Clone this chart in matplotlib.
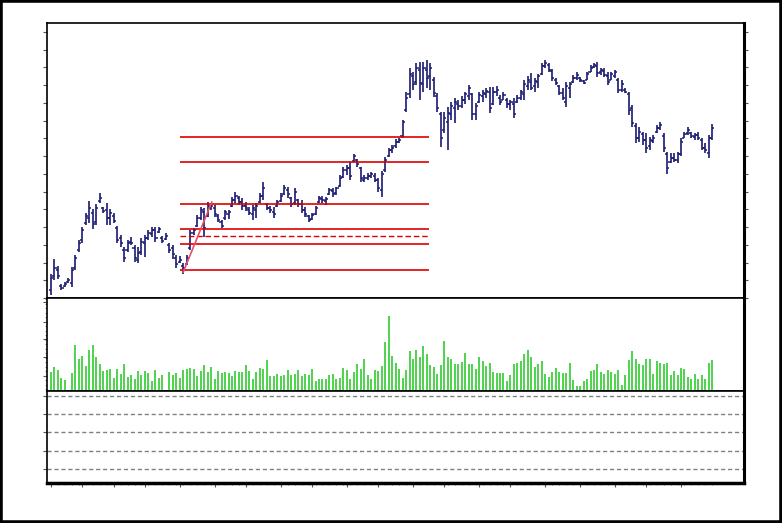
import numpy as np
import matplotlib
matplotlib.use("Agg")
import matplotlib.pyplot as plt
import matplotlib.patches as patches

# daily bars, price in arbitrary units (no labels on the original)
high = [24, 39, 32, 14, 16, 20, 31, 43, 58, 71,
        85, 97, 89, 94, 105, 91, 95, 89, 85, 72,
        63, 51, 58, 61, 53, 51, 60, 63, 68, 71,
        71, 71, 62, 65, 55, 53, 43, 42, 35, 43,
        68, 70, 83, 91, 90, 96, 95, 93, 84, 78,
        88, 88, 101, 106, 102, 100, 96, 91, 93, 95,
        105, 116, 95, 92, 91, 98, 105, 113, 111, 101,
        110, 99, 98, 91, 83, 85, 92, 102, 102, 101,
        110, 110, 111, 123, 131, 133, 136, 144, 139, 131,
        123, 125, 126, 125, 120, 127, 141, 150, 153, 159,
        160, 178, 206, 230, 226, 235, 236, 236, 238, 235,
        221, 205, 186, 186, 191, 196, 200, 198, 202, 206,
        213, 205, 195, 206, 208, 210, 211, 211, 212, 203,
        206, 200, 198, 200, 203, 208, 218, 222, 225, 220,
        224, 235, 238, 235, 229, 220, 213, 210, 216, 216,
        223, 226, 221, 218, 226, 233, 235, 236, 230, 230,
        226, 226, 228, 220, 218, 210, 206, 193, 175, 171,
        166, 165, 161, 163, 173, 176, 165, 146, 145, 145,
        146, 160, 166, 171, 166, 165, 166, 160, 155, 163,
        174]
low = [3, 18, 19, 8, 11, 15, 11, 28, 46, 55,
       73, 75, 69, 73, 95, 85, 73, 73, 75, 55,
       51, 36, 46, 53, 36, 35, 43, 41, 58, 61,
       56, 65, 55, 58, 45, 39, 30, 35, 24, 33,
       48, 63, 71, 78, 61, 81, 88, 81, 76, 70,
       78, 79, 91, 95, 93, 88, 87, 83, 78, 80,
       95, 98, 88, 85, 80, 91, 96, 103, 100, 91,
       93, 91, 85, 81, 76, 78, 83, 95, 95, 93,
       103, 101, 103, 111, 120, 123, 118, 136, 131, 116,
       116, 118, 120, 116, 106, 101, 126, 141, 145, 150,
       155, 160, 186, 200, 208, 213, 198, 206, 210, 208,
       201, 186, 151, 165, 148, 178, 175, 188, 190, 194,
       198, 178, 178, 195, 196, 200, 185, 193, 202, 193,
       198, 190, 188, 180, 195, 198, 198, 208, 208, 206,
       210, 223, 230, 226, 217, 213, 203, 198, 191, 200,
       215, 218, 216, 214, 218, 226, 230, 221, 223, 221,
       213, 218, 220, 205, 206, 205, 183, 171, 155, 156,
       153, 145, 148, 155, 165, 168, 146, 124, 135, 136,
       135, 142, 160, 163, 160, 158, 158, 148, 145, 140,
       158]
opens = [8, 22, 28, 12, 12, 16, 15, 30, 48, 58,
         75, 80, 85, 76, 97, 90, 88, 80, 82, 70,
         60, 48, 48, 56, 50, 38, 46, 55, 60, 64,
         68, 66, 60, 59, 53, 50, 40, 36, 32, 34,
         50, 65, 72, 80, 86, 82, 90, 90, 82, 76,
         80, 84, 92, 98, 100, 96, 92, 88, 84, 88,
         96, 102, 94, 90, 86, 92, 97, 104, 108, 100,
         95, 98, 94, 88, 82, 79, 84, 96, 99, 97,
         104, 107, 105, 112, 121, 128, 130, 137, 138, 130,
         118, 120, 122, 122, 118, 108, 128, 142, 148, 152,
         156, 162, 188, 204, 222, 216, 228, 214, 228, 222,
         218, 202, 184, 168, 176, 184, 190, 194, 192, 198,
         202, 204, 184, 196, 202, 204, 206, 194, 206, 200,
         198, 198, 194, 194, 196, 200, 204, 212, 216, 212,
         216, 224, 232, 233, 227, 218, 212, 205, 196, 210,
         216, 220, 220, 217, 218, 226, 231, 232, 226, 227,
         222, 218, 222, 218, 208, 208, 204, 190, 172, 160,
         164, 158, 152, 157, 166, 170, 162, 144, 136, 140,
         138, 144, 160, 165, 165, 161, 163, 158, 150, 145,
         160]
closes = [20, 30, 22, 10, 14, 18, 28, 40, 55, 68,
          82, 90, 74, 90, 100, 87, 80, 85, 77, 58,
          55, 40, 55, 55, 40, 45, 56, 60, 65, 68,
          60, 69, 57, 62, 48, 44, 34, 38, 30, 40,
          65, 68, 80, 88, 70, 92, 92, 84, 78, 72,
          86, 86, 98, 102, 96, 92, 90, 85, 90, 92,
          102, 110, 90, 88, 84, 96, 102, 110, 104, 94,
          106, 94, 88, 84, 78, 83, 90, 100, 98, 99,
          108, 104, 110, 120, 128, 130, 122, 142, 134, 120,
          120, 122, 124, 118, 110, 124, 138, 148, 150, 156,
          158, 176, 200, 224, 214, 230, 215, 230, 220, 230,
          205, 190, 160, 180, 185, 192, 196, 192, 198, 204,
          210, 184, 192, 203, 205, 207, 190, 206, 208, 196,
          203, 194, 196, 184, 200, 206, 214, 218, 210, 217,
          222, 232, 235, 228, 220, 215, 205, 200, 212, 214,
          220, 223, 218, 215, 224, 230, 233, 225, 228, 223,
          216, 224, 226, 208, 214, 206, 188, 175, 160, 166,
          158, 150, 158, 160, 170, 173, 150, 130, 140, 138,
          144, 156, 164, 168, 162, 163, 160, 150, 148, 160,
          170]
volume = [19, 24, 21, 13, 11, 1, 18, 46, 32, 35,
          25, 41, 46, 34, 27, 20, 21, 22, 13, 22,
          17, 27, 14, 16, 12, 20, 16, 20, 18, 10,
          21, 13, 16, 1, 19, 16, 18, 13, 21, 22,
          23, 22, 15, 20, 26, 19, 24, 12, 20, 18,
          19, 18, 15, 20, 19, 19, 26, 20, 12, 19,
          23, 22, 31, 15, 15, 17, 15, 16, 21, 16,
          17, 21, 15, 17, 16, 22, 10, 12, 12, 12,
          16, 17, 12, 13, 23, 21, 12, 19, 27, 22,
          32, 16, 12, 21, 20, 25, 49, 75, 35, 28,
          22, 13, 21, 40, 32, 41, 34, 45, 37, 26,
          24, 17, 26, 50, 34, 32, 27, 27, 29, 38,
          27, 27, 22, 34, 30, 25, 28, 19, 18, 18,
          18, 10, 16, 27, 28, 30, 37, 41, 34, 24,
          27, 30, 17, 14, 19, 23, 19, 18, 18, 28,
          11, 5, 5, 10, 12, 20, 21, 27, 19, 17,
          21, 19, 17, 21, 6, 16, 31, 40, 32, 27,
          26, 32, 32, 17, 30, 28, 27, 28, 16, 20,
          16, 23, 22, 14, 12, 17, 12, 16, 12, 28,
          31]

# fibonacci levels drawn over bars 37..109
fib_levels = [28, 54, 69, 94, 136, 161]
fib_mid = 62
fib_from, fib_to = 37.1, 108.6
trend_x = [38, 46.2]
trend_y = [26, 96]

# empty indicator pane, only the reference levels
osc_levels = [15, 35, 55, 75, 95]

xticks_major = [0, 9, 18, 27, 37, 47, 56, 66, 75, 85, 94, 104, 113, 123,
                132, 142, 152, 162, 171, 181]
price_ticks = np.arange(0, 275, 17.75)
vol_ticks = [15, 34, 52, 69, 89]

fig = plt.figure(figsize=(7.82, 5.23), dpi=100)
left, width = 47 / 782, 697 / 782
ax_p = fig.add_axes([left, 1 - 298 / 523, width, 275 / 523])
ax_v = fig.add_axes([left, 1 - 391 / 523, width, 93 / 523])
ax_o = fig.add_axes([left, 1 - 483 / 523, width, 92 / 523])

x = np.arange(len(high))
bar_col = "#1a1a72"
ax_p.vlines(x, low, high, color=bar_col, lw=1.2)
ax_p.hlines(opens, x - 0.6, x, color=bar_col, lw=1.1)
ax_p.hlines(closes, x, x + 0.6, color=bar_col, lw=1.1)

for lv in fib_levels:
    ax_p.hlines(lv, fib_from, fib_to, color="#dd0000", lw=1.2)
ax_p.hlines(fib_mid, fib_from, fib_to, color="#dd0000", lw=1.0,
            linestyles=(0, (4, 2)))
ax_p.plot(trend_x, trend_y, color="#e8506a", lw=1.2)
ax_p.set_ylim(0, 275)

xv = np.arange(len(volume))
ax_v.vlines(xv, 0, volume, color="#40d040", lw=1.3)
ax_v.set_ylim(0, 93)

for lv in osc_levels:
    ax_o.axhline(lv, color="#808080", lw=1.0, ls=(0, (3, 2)))
ax_o.set_ylim(0, 100)

for ax in (ax_p, ax_v, ax_o):
    ax.set_xlim(-1.15, 199.1)
    for s in ax.spines.values():
        s.set_color("black")
        s.set_linewidth(1.2)
    ax.spines["right"].set_linewidth(2.2)
    ax.tick_params(labelleft=False, labelbottom=False, labelright=False,
                   colors="#555555", direction="out", length=3, width=0.8)
    ax.tick_params(axis="x", bottom=False, which="both")

ax_o.spines["bottom"].set_linewidth(2.5)

ax_p.set_yticks(price_ticks)
ax_p.tick_params(axis="y", right=True)
ax_v.set_yticks(vol_ticks)
ax_v.set_yticks(np.arange(2, 93, 4.5), minor=True)
ax_v.tick_params(axis="y", which="minor", length=1.5, width=0.6, colors="#777777")
ax_o.set_yticks(osc_levels)

ax_o.set_xticks(xticks_major)
ax_o.set_xticks(np.arange(0, 191, 2), minor=True)
ax_o.tick_params(axis="x", which="major", bottom=True, length=3)
ax_o.tick_params(axis="x", which="minor", bottom=True, length=1.5, width=0.6,
                 colors="#777777")

fig.add_artist(patches.Rectangle((0, 0), 1, 1, transform=fig.transFigure,
                                 fill=False, edgecolor="black", lw=4))

fig.savefig("out.png", dpi=100)
